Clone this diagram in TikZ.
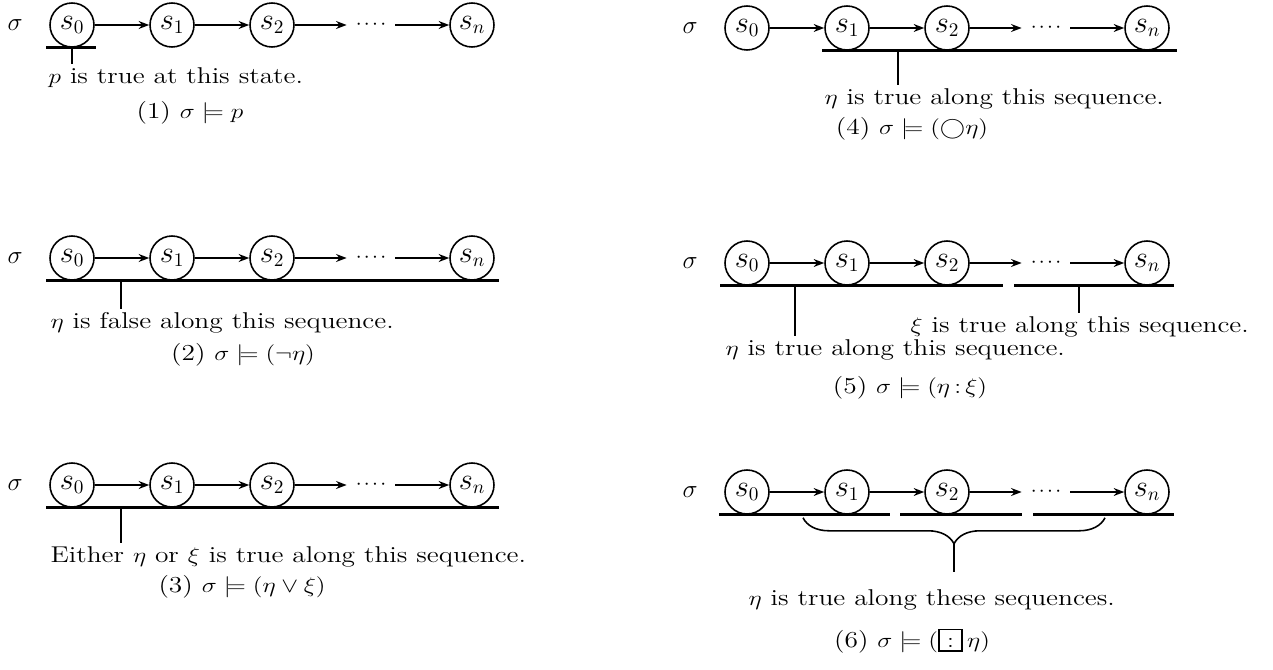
\documentclass[tikz,border=0pt]{standalone}
\usepackage{amsmath,amssymb}
\usepackage{tikz}
\usetikzlibrary{arrows.meta,positioning,calc,decorations.pathreplacing}
\newcommand{\boxcolon}{\mathord{\setlength{\fboxsep}{0pt}\setlength{\fboxrule}{0.8pt}%
  \fbox{\raisebox{0pt}[0.74em][0.14em]{\makebox[0.78em]{$:$}}}}}
\newcommand{\fourdots}{\ensuremath{{\cdot}\mkern2mu{\cdot}\mkern2mu{\cdot}\mkern2mu{\cdot}}}

\begin{document}
\begin{tikzpicture}[x=0.02cm,y=-0.02cm,font=\fontsize{13}{15}\selectfont,
    st/.style={draw,circle,minimum size=0.88cm,inner sep=0pt,line width=0.9pt,
      font=\fontsize{16}{18}\selectfont},
    sg/.style={font=\fontsize{14.4}{17}\selectfont},
    arr/.style={-{Stealth[length=6pt,width=4.5pt]},line width=1pt},
    bar/.style={line width=1.8pt},
    tick/.style={line width=0.9pt},
    lbl/.style={anchor=north west,inner sep=2pt,xscale=1.2,transform shape},
    capt/.style={inner sep=1pt,xscale=1.2,transform shape},
    dts/.style={inner sep=5pt}]
  \useasboundingbox (0,0) rectangle (1273,669);
  % the six runs s0 -> s1 -> s2 -> ... -> sn
  \foreach \r/\x/\y in {1/0/25,2/0/258,3/0/485,4/675/28,5/675/263,6/675/492}{
    \node[sg] (sig-\r) at (\x+15,\y) {$\sigma$};
    \node[st] (s0-\r) at (\x+72,\y) {$s_0$};
    \node[st] (s1-\r) at (\x+172,\y) {$s_1$};
    \node[st] (s2-\r) at (\x+272,\y) {$s_2$};
    \node[dts] (d-\r) at (\x+371,\y) {\fourdots};
    \node[st] (sn-\r) at (\x+472,\y) {$s_n$};
    \draw[arr] (s0-\r) -- (s1-\r);
    \draw[arr] (s1-\r) -- (s2-\r);
    \draw[arr] (s2-\r) -- (d-\r);
    \draw[arr] (d-\r) -- (sn-\r);
  }

  % (1)
  \node[lbl] (l1) at (44,64) {$p$ is true at this state.};
  \node[capt] (c1) at (190,113) {(1) $\sigma\models p$};
  \draw[bar] ($(s0-1.south)+(-26,0)$) -- ($(s0-1.south)+(24,0)$);
  \draw[tick] (s0-1.south) -- (s0-1.south |- l1.north);

  % (2)
  \node[lbl] (l2) at (46,309) {$\eta$ is false along this sequence.};
  \node[capt] (c2) at (243,355) {(2) $\sigma\models(\neg\eta)$};
  \draw[bar] ($(s0-2.south)+(-26,0)$) -- ($(sn-2.south)+(27,0)$);
  \coordinate (k2) at ($(s0-2.south)+(49,0)$);
  \draw[tick] (k2) -- (k2 |- l2.north);

  % (3)
  \node[lbl] (l3) at (46,543) {Either $\eta$ or $\xi$ is true along this sequence.};
  \node[capt] (c3) at (242,587) {(3) $\sigma\models(\eta\vee\xi)$};
  \draw[bar] ($(s0-3.south)+(-26,0)$) -- ($(sn-3.south)+(27,0)$);
  \coordinate (k3) at ($(s0-3.south)+(49,0)$);
  \draw[tick] (k3) -- (k3 |- l3.north);

  % (4)
  \node[lbl] (l4) at (820,85) {$\eta$ is true along this sequence.};
  \node[capt] (c4) at (912,129) {(4) $\sigma\models(\bigcirc\eta)$};
  \draw[bar] ($(s1-4.south)+(-25,0)$) -- ($(sn-4.south)+(30,0)$);
  \coordinate (k4) at ($(s1-4.south)+(51,0)$);
  \draw[tick] (k4) -- (k4 |- l4.north);

  % (5)
  \node[lbl] (l5x) at (906,313) {$\xi$ is true along this sequence.};
  \node[lbl] (l5e) at (721,336) {$\eta$ is true along this sequence.};
  \node[capt] (c5) at (910,388) {(5) $\sigma\models(\eta\,{:}\,\xi)$};
  \draw[bar] ($(s0-5.south)+(-27,0)$) -- ($(s2-5.south)+(56,0)$);
  \draw[bar] ($(s2-5.south)+(67,0)$) -- ($(sn-5.south)+(27,0)$);
  \coordinate (k5e) at ($(s0-5.south)+(48,0)$);
  \coordinate (k5x) at ($(sn-5.south)+(-68,0)$);
  \draw[tick] (k5e) -- (k5e |- l5e.north);
  \draw[tick] (k5x) -- (k5x |- l5x.north);

  % (6)
  \node[lbl] (l6) at (744,586) {$\eta$ is true along these sequences.};
  \node[capt] (c6) at (912,641) {(6) $\sigma\models(\boxcolon\,\eta)$};
  \draw[bar] ($(s0-6.south)+(-28,0)$) -- ($(s1-6.south)+(43,0)$);
  \draw[bar] ($(s2-6.south)+(-47,0)$) -- ($(s2-6.south)+(75,0)$);
  \draw[bar] ($(s2-6.south)+(86,0)$) -- ($(sn-6.south)+(27,0)$);
  \coordinate (br1) at ($(s0-6.south)+(56,3)$);
  \coordinate (br2) at ($(sn-6.south)+(-42,3)$);
  \draw[tick,decorate,decoration={brace,mirror,amplitude=0.52cm}] (br1) -- (br2);
  \coordinate (q6) at ($(br1)!0.5!(br2)+(0,26)$);
  \coordinate (k6) at ($(q6)+(0,28)$);
  \draw[tick] (q6) -- (k6);
\end{tikzpicture}
\end{document}
